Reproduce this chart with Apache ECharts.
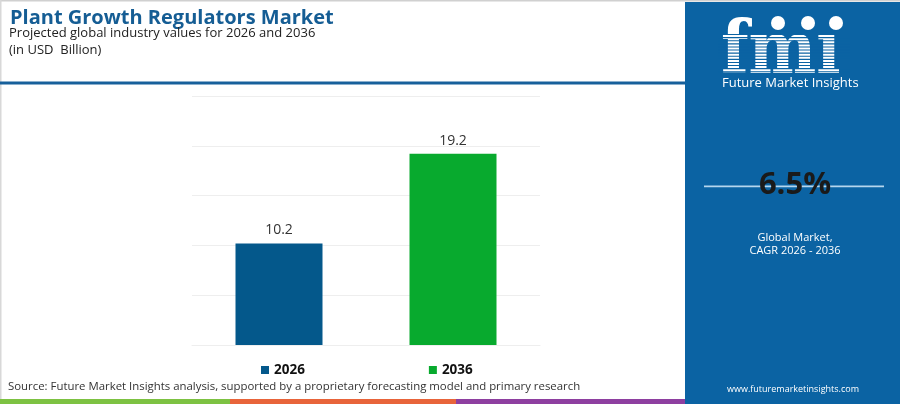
<!DOCTYPE html>
<html>
<head>
<meta charset="utf-8">
<script src="https://cdn.jsdelivr.net/npm/echarts@6/dist/echarts.min.js"></script>
<style>
html,body{margin:0;padding:0;background:#fff;}
#chart{width:900px;height:404px;}
</style>
</head>
<body>
<div id="chart"></div>
<script>
var categories = ['2026', '2036'];
var values2026 = [10.2, '-'];
var values2036 = ['-', 19.2];
var seriesNames = ['2026', '2036'];
var cagrText = '6.5%';
var titleText = 'Plant Growth Regulators Market';
var subtitleText = 'Projected global industry values for 2026 and 2036';
var unitText = '(in USD  Billion)';
var sourceText = 'Source: Future Market Insights analysis, supported by a proprietary forecasting model and primary research';

var FONT = '"Open Sans", sans-serif';
var chart = echarts.init(document.getElementById('chart'));

var labelOpt = {
  show: true, position: 'top', distance: 6,
  color: '#333', fontSize: 14, fontFamily: FONT,
  formatter: function (p) { return p.value; }
};

// stripes over the fmi logo
var stripes = [];
for (var i = 0; i < 13; i++) {
  stripes.push({
    type: 'rect', z: 20,
    shape: { x: 718, y: 34 + i * 3.1, width: 132, height: 1.1 },
    style: { fill: '#0b63a3' }
  });
}

var option = {
  animation: false,
  backgroundColor: '#ffffff',
  grid: { left: 192, right: 360, top: 96, bottom: 59 },
  legend: {
    data: seriesNames,
    left: 256, top: 358,
    itemWidth: 8, itemHeight: 8, itemGap: 124,
    icon: 'rect',
    textStyle: { fontFamily: FONT, fontWeight: 'bold', fontSize: 13.5, color: '#111' }
  },
  xAxis: {
    type: 'category', data: categories,
    axisLine: { show: true, lineStyle: { color: '#eeeeee' } },
    axisTick: { show: false }, axisLabel: { show: false }
  },
  yAxis: {
    type: 'value', min: 0, max: 25, interval: 5,
    axisLine: { show: false }, axisTick: { show: false }, axisLabel: { show: false },
    splitLine: { lineStyle: { color: '#eeeeee', width: 1 } }
  },
  series: [
    { name: seriesNames[0], type: 'bar', data: values2026, barWidth: '50%', barGap: '-100%',
      itemStyle: { color: '#04588b' }, label: labelOpt },
    { name: seriesNames[1], type: 'bar', data: values2036, barWidth: '50%', barGap: '-100%',
      itemStyle: { color: '#08aa2e' }, label: labelOpt }
  ],
  graphic: [
    { type: 'rect', z: 0, shape: { x: 0, y: 0, width: 900, height: 1.5 }, style: { fill: '#d0d0d0' } },
    { type: 'rect', z: 0, shape: { x: 0, y: 0, width: 1.5, height: 404 }, style: { fill: '#d8d8d8' } },
    { type: 'text', left: 10, top: 8, style: { text: titleText, fontFamily: FONT, fontWeight: 'bold', fontSize: 20, fill: '#155d94' } },
    { type: 'text', left: 9, top: 27, style: { text: subtitleText, fontFamily: FONT, fontSize: 13, fill: '#222' } },
    { type: 'text', left: 9, top: 44, style: { text: unitText, fontFamily: FONT, fontSize: 13, fill: '#222' } },
    { type: 'rect', shape: { x: 0, y: 81.5, width: 686, height: 3 }, style: { fill: '#17609b' } },
    { type: 'text', left: 8, top: 381, style: { text: sourceText, fontFamily: FONT, fontSize: 11.4, fill: '#333' } },
    { type: 'rect', shape: { x: 0, y: 399, width: 230, height: 5 }, style: { fill: '#7dc242' } },
    { type: 'rect', shape: { x: 230, y: 399, width: 226, height: 5 }, style: { fill: '#e8643a' } },
    { type: 'rect', shape: { x: 456, y: 399, width: 230, height: 5 }, style: { fill: '#8e3fa0' } },
    // right panel
    { type: 'rect', z: 5, shape: { x: 685, y: 2, width: 215, height: 402 }, style: { fill: '#0b63a3' } },
    { type: 'text', z: 10, x: 721, y: 20, scaleY: 1.15, originX: 721, originY: 20,
      style: { text: 'fm\u0131', fontFamily: '"DejaVu Serif", serif', fontWeight: 'bold', fontSize: 64, fill: '#ffffff', verticalAlign: 'top' } },
    { type: 'circle', z: 10, shape: { cx: 778, cy: 23, r: 7 }, style: { fill: '#ffffff' } },
    { type: 'circle', z: 10, shape: { cx: 808, cy: 23, r: 7 }, style: { fill: '#ffffff' } },
    { type: 'circle', z: 10, shape: { cx: 836, cy: 23, r: 7 }, style: { fill: '#ffffff' } },
    { type: 'text', z: 10, left: 722, top: 77, style: { text: 'Future Market Insights', fontFamily: FONT, fontSize: 13, fill: '#ffffff' } },
    { type: 'rect', z: 10, shape: { x: 704, y: 185.5, width: 180, height: 1.8 }, style: { fill: '#b5d6ee' } },
    { type: 'text', z: 12, x: 795, y: 185, style: { text: cagrText, fontFamily: FONT, fontWeight: 'bold', fontSize: 31, fill: '#1a1a1a', align: 'center', verticalAlign: 'middle' } },
    { type: 'text', z: 10, x: 795, y: 238, style: { text: 'Global Market,', fontFamily: FONT, fontSize: 11, fill: '#ffffff', align: 'center', verticalAlign: 'middle' } },
    { type: 'text', z: 10, x: 795, y: 251, style: { text: 'CAGR 2026 - 2036', fontFamily: FONT, fontSize: 11, fill: '#ffffff', align: 'center', verticalAlign: 'middle' } },
    { type: 'text', z: 10, x: 793, y: 389, style: { text: 'www.futuremarketinsights.com', fontFamily: FONT, fontSize: 9, fill: '#ffffff', align: 'center', verticalAlign: 'middle' } }
  ].concat(stripes)
};
chart.setOption(option);
</script>
</body>
</html>
